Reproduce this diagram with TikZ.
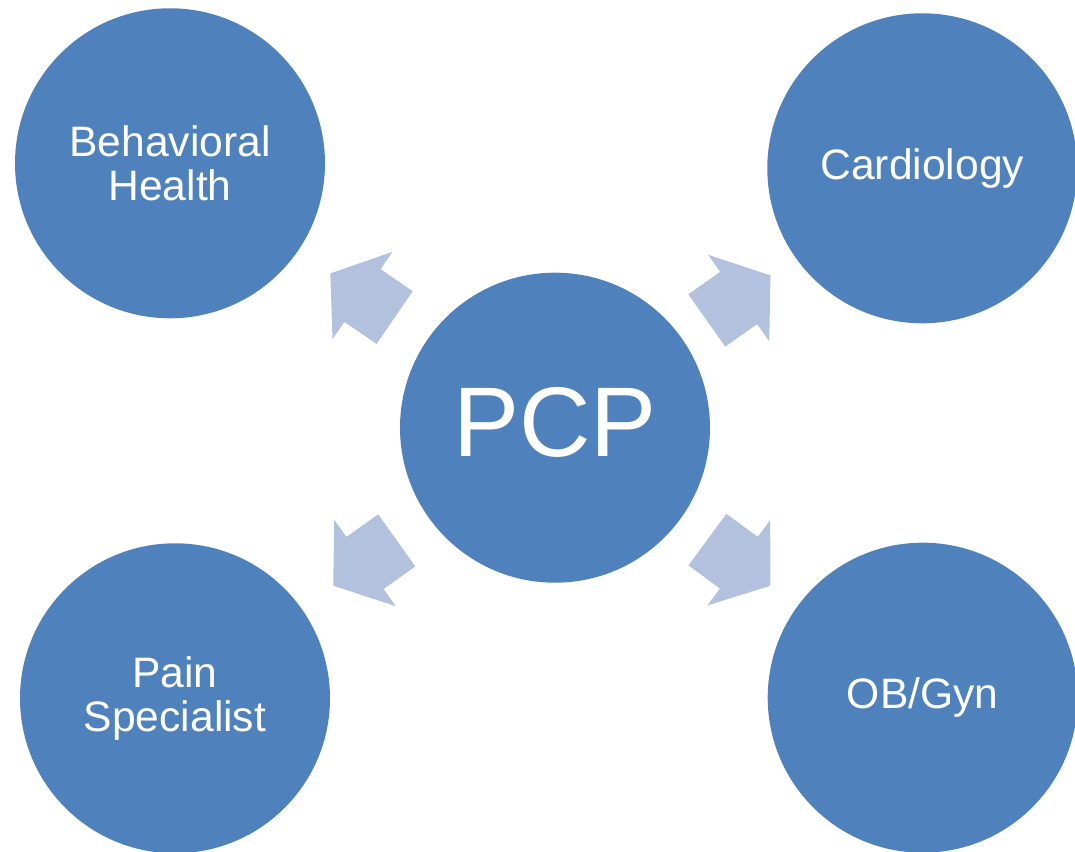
\documentclass[tikz,border=0pt]{standalone}
\usepackage{fontspec}
\setmainfont{Liberation Sans}
\usetikzlibrary{calc}
\definecolor{hubblue}{HTML}{4F81BD}
\definecolor{spokeblue}{HTML}{B2C1DD}
\tikzstyle{clinic}=[circle, fill=hubblue, text=white
%,draw=white
,minimum size=155pt
,inner sep=0pt
,align=center
,font=\fontsize{21.3}{21.7}\selectfont
]
\tikzstyle{spoke} = [fill=spokeblue]

\begin{document}
\begin{tikzpicture}[x=0.5pt,y=0.5pt]
    \useasboundingbox (0,0) rectangle (1075,851);
    % The primary care hub in the middle
    \node[clinic, font=\fontsize{49.5}{50}\selectfont, text depth=5.5pt] (PCP) at (555,423.3) {PCP};

    % Then the four specialists round it
    \foreach \pos/\name/\txt in {{(170,687.7)/BH/Behavioral\\Health}, {(922.3,682.7)/Card/Cardiology}, {(175,152.7)/Pain/Pain\\Specialist}, {(922.7,153.3)/OB/{OB/Gyn}}}
        \node[clinic] (\name) at \pos {\txt};

    % Block arrows from the hub out to each specialist
    \foreach \dest in {BH, Card, Pain, OB}{
        \pgfmathanglebetweenpoints{\pgfpointanchor{PCP}{center}}{\pgfpointanchor{\dest}{center}}
        \let\spokeangle\pgfmathresult
        \begin{scope}[shift={($(PCP)!0.5!(\dest)$)}, rotate=\spokeangle]
            \path[spoke] (-39,-32) -- (0,-32) -- (0,-53) -- (39,0) -- (0,53) -- (0,32) -- (-39,32) -- cycle;
        \end{scope}
    }
\end{tikzpicture}
\end{document}
